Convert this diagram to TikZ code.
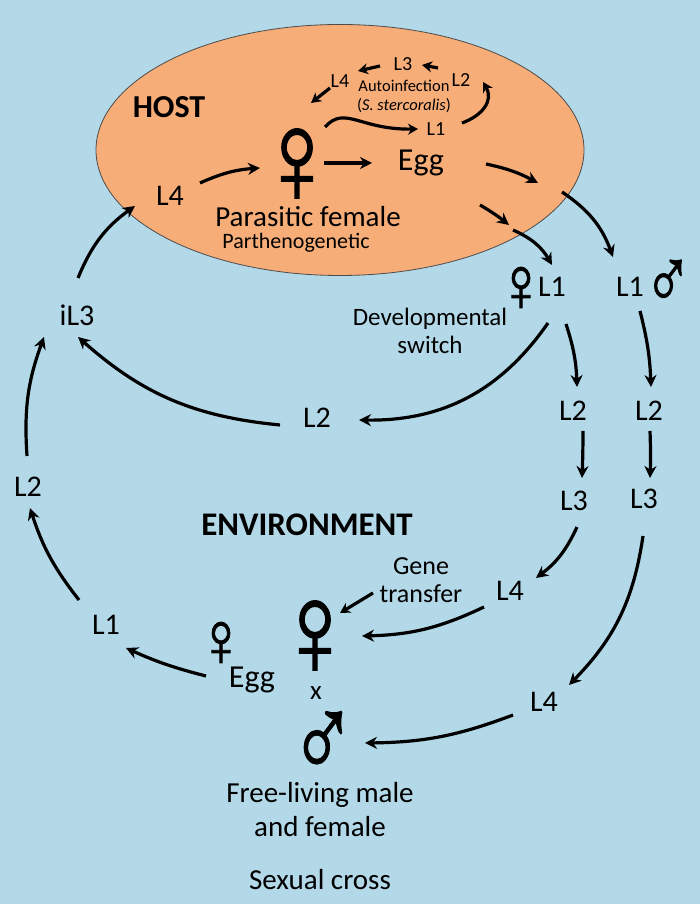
\documentclass[tikz,border=0pt]{standalone}
\usepackage{fontspec}
\setmainfont{Carlito}
\newfontfamily\symfont[FakeBold=1.2]{Liberation Sans}
\newcommand{\femsym}{\scalebox{0.82}[1]{\char"2640}}
\newcommand{\malsym}{\scalebox{0.75}[1]{\char"2642}}
\usepackage{tikz}
\usetikzlibrary{arrows.meta,positioning,shapes,calc}

\begin{document}
\begin{tikzpicture}[
    x=1pt, y=1pt,
    larva/.style={inner sep=3pt, font=\fontsize{30}{34}\selectfont},
    minilarva/.style={inner sep=2pt, font=\fontsize{20}{22}\selectfont},
    caption/.style={inner sep=2pt, align=center, font=\fontsize{25}{28}\selectfont},
    heading/.style={inner sep=0pt, font=\fontsize{33}{36}\selectfont\bfseries},
    bigsym/.style={inner sep=0pt, font=\symfont\fontsize{132}{132}\selectfont},
    smallsym/.style={inner sep=0pt, font=\symfont\fontsize{78}{78}\selectfont},
    flow/.style={-{Stealth[length=12pt,width=12pt]}, line width=3.2pt, black},
    miniflow/.style={-{Stealth[length=10pt,width=11pt]}, line width=3.2pt, black}
]
\definecolor{envblue}{HTML}{B3D8E7}
\definecolor{hostorange}{HTML}{F7AD78}

% Background and host ellipse
\fill[envblue] (0,0) rectangle (700,904);
\useasboundingbox (0,0) rectangle (700,904);
\node[ellipse, draw=black!70, fill=hostorange, line width=0.8pt, minimum width=488pt, minimum height=251pt, inner sep=0pt] (host) at (340,754) {};

% Headings
\node[heading, font=\fontsize{32}{36}\selectfont\bfseries] (hostlabel) at (169,797) {HOST};
\node[heading] (envlabel) at (307,379) {ENVIRONMENT};

% Autoinfection loop
\node[minilarva] (autoL1) at (436,775) {L1};
\node[minilarva] (autoL2) at (461,824) {L2};
\node[minilarva] (autoL3) at (403,840) {L3};
\node[minilarva] (autoL4) at (340,823) {L4};
\node[caption, font=\fontsize{16.5}{19}\selectfont] (autotext) at (404,808) {Autoinfection\\(\textit{S. stercoralis})};

% Parasitic generation
\node[bigsym] (parfemale) at (297,738) {\femsym};
\node[larva, font=\fontsize{32}{36}\selectfont] (eggH) at (421,741) {Egg};
\node[larva] (L4H) at (170,708) {L4};
\node[caption, font=\fontsize{29}{32}\selectfont] (parlabel) at (308,687) {Parasitic female};
\node[caption, font=\fontsize{22}{24}\selectfont] (parthlabel) at (296,661) {Parthenogenetic};
\coordinate (rimA) at (538,721);
\coordinate (rimB) at (509,679);
\coordinate (rimC) at (513,674);
\coordinate (rimD) at (562,712);

% Female and male first stage
\node[smallsym] (femL1sym) at (521,615) {\femsym};
\node[larva] (femL1) at (552,617) {L1};
\node[larva] (malL1) at (630,617) {L1};
\node[smallsym, font=\symfont\fontsize{86}{86}\selectfont] (malL1sym) at (668,620) {\malsym};
\node[caption] (switchlabel) at (430,573) {Developmental\\switch};

% Right hand columns
\node[larva] (femL2) at (573,493) {L2};
\node[larva] (femL3) at (574,403) {L3};
\node[larva] (femL4) at (510,313) {L4};
\node[larva] (malL2) at (649,493) {L2};
\node[larva] (malL3) at (644,405) {L3};
\node[larva] (malL4) at (544,202) {L4};

% Infective route
\node[larva] (L2mid) at (317,486) {L2};
\node[larva] (iL3) at (77,589) {iL3};
\node[larva] (L2left) at (28,417) {L2};
\node[larva] (L1left) at (106,279) {L1};

% Free-living adults and the cross
\node[smallsym] (eggsym) at (221,260) {\femsym};
\node[larva, font=\fontsize{32}{36}\selectfont] (eggF) at (252,224) {Egg};
\node[bigsym] (freefemale) at (315,266) {\femsym};
\node[larva, font=\fontsize{27}{30}\selectfont] (crossx) at (316,211) {x};
\node[bigsym, font=\symfont\fontsize{119}{119}\selectfont] (freemale) at (323,159) {\malsym};
\node[caption, font=\fontsize{26}{28}\selectfont] (genelabel) at (421,324) {Gene\\transfer};
\node[caption, font=\fontsize{29}{34}\selectfont] (freelabel) at (320,94) {Free-living male\\and female};
\node[caption, font=\fontsize{29}{32}\selectfont] (crosslabel) at (320,24) {Sexual cross};

% Autoinfection arrows
\draw[miniflow] ($(parfemale)+(28,39)$) .. controls (345,799) and (360,774) .. ($(autoL1)+(-18,0)$);
\draw[miniflow] ($(autoL1)+(26,6)$) to[out=20, in=-60, looseness=1.2] ($(autoL2)+(22,-2)$);
\draw[miniflow] ($(autoL2)+(-23,12)$) -- ($(autoL3)+(19,-1)$);
\draw[miniflow] ($(autoL3)+(-23,-2)$) -- ($(autoL4)+(18,10)$);
\draw[miniflow] ($(autoL4)+(-10,-7)$) -- ($(parfemale)+(14,63)$);

% Parasitic arrows
\draw[flow] ($(L4H)+(30,13)$) to[bend left=10] ($(parfemale)+(-37,-2)$);
\draw[flow] ($(parfemale)+(27,3)$) -- ($(eggH)+(-49,0)$);
\draw[flow] ($(eggH)+(65,-1)$) to[bend left=8] (rimA);
\draw[flow] ($(eggH)+(59,-42)$) to[bend left=4] (rimB);
\draw[flow] (rimC) to[bend left=18] ($(femL1)+(0,22)$);
\draw[flow] (rimD) to[bend left=18] ($(malL1)+(-17,30)$);

% Column arrows
\draw[flow] ($(femL1)+(14,-37)$) to[bend left=8] ($(femL2)+(4,24)$);
\draw[flow] ($(femL2)+(10,-20)$) to[bend left=1] ($(femL3)+(8,23)$);
\draw[flow] ($(femL3)+(3,-26)$) to[bend left=14] ($(femL4)+(26,13)$);
\draw[flow] ($(femL4)+(-26,-16)$) to[bend left=12] ($(freefemale)+(47,2)$);
\draw[flow] ($(malL1)+(10,-24)$) to[bend left=6] ($(malL2)+(2,24)$);
\draw[flow] ($(malL2)+(1,-20)$) to[bend left=2] ($(malL3)+(6,21)$);
\draw[flow] ($(malL3)+(-1,-37)$) to[bend left=18] ($(malL4)+(25,17)$);
\draw[flow] ($(malL4)+(-31,-13)$) to[bend left=10] ($(freemale)+(42,2)$);
\draw[miniflow] ($(genelabel)+(-48,-13)$) -- ($(freefemale)+(25,25)$);

% Route back to the host
\draw[flow] ($(femL1)+(-4,-36)$) to[bend left=28] ($(L2mid)+(42,-2)$);
\draw[flow] ($(L2mid)+(-37,-7)$) to[bend left=18] ($(iL3)+(1,-22)$);
\draw[flow] ($(iL3)+(1,37)$) to[bend left=16] ($(L4H)+(-35,-10)$);
\draw[flow] ($(L2left)+(-1,31)$) to[bend left=12] ($(iL3)+(-33,-22)$);
\draw[flow] ($(L1left)+(-27,25)$) to[bend left=10] ($(L2left)+(2,-21)$);
\draw[flow] ($(eggF)+(-46,4)$) to[bend left=5] ($(L1left)+(20,-23)$);

\end{tikzpicture}
\end{document}
